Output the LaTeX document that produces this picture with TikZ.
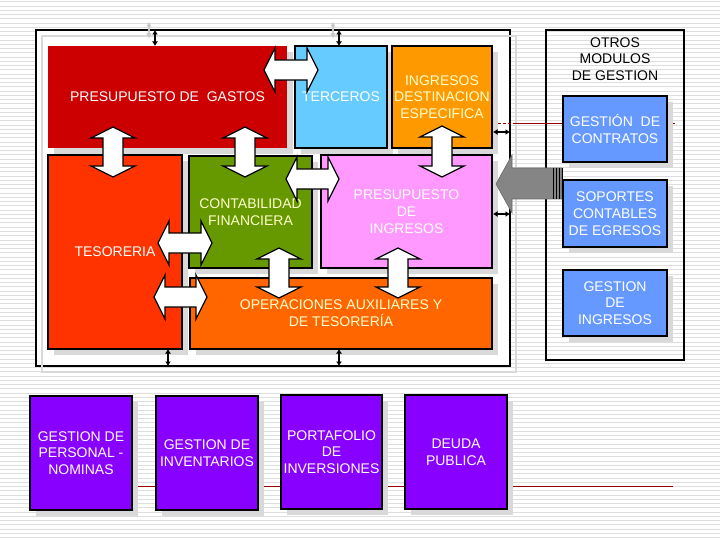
\documentclass[tikz,border=0pt]{standalone}
\usepackage{fontspec}
\setmainfont{Liberation Sans}
\usetikzlibrary{arrows.meta,shadows}
\definecolor{cRed}{HTML}{CC0000}
\definecolor{cSky}{HTML}{66CCFF}
\definecolor{cOrange}{HTML}{FF9900}
\definecolor{cTes}{HTML}{FF3300}
\definecolor{cGreen}{HTML}{669900}
\definecolor{cPink}{HTML}{FF99FF}
\definecolor{cOper}{HTML}{FF6600}
\definecolor{cBlue}{HTML}{6699FF}
\definecolor{cPurple}{HTML}{8800FF}
\definecolor{cShadow}{HTML}{D9D9D9}
\definecolor{cStripe}{HTML}{DEDEDE}
\definecolor{cPale}{HTML}{FFFFCC}
\definecolor{cLine}{HTML}{990000}
\definecolor{cGhost}{HTML}{C8C8C8}
\definecolor{cBig}{HTML}{858585}
\tikzset{
  txt/.style={font=\fontsize{14}{16.8}\selectfont, align=center, inner sep=0pt},
  box/.style={txt, draw=black, line width=1.6pt, text=white,
    drop shadow={shadow xshift=6pt, shadow yshift=-6pt, fill=cShadow, opacity=1}},
  flatbox/.style={txt, draw=none, text=white,
    drop shadow={shadow xshift=6pt, shadow yshift=-6pt, fill=cShadow, opacity=1}},
  smallarr/.style={black, line width=1.2pt, {Latex[length=4.5pt,width=6pt]}-{Latex[length=4.5pt,width=6pt]}},
  ghostarr/.style={cGhost, line width=1.2pt, {Latex[length=4.5pt,width=6pt]}-{Latex[length=4.5pt,width=6pt]}},
  pics/dbl/.style={code={
    \draw[fill=white, draw=black, line width=1.3pt]
      (-#1/2,0) -- (-#1/2+11,-22) -- (-#1/2+11,-10) -- (#1/2-11,-10) -- (#1/2-11,-22)
      -- (#1/2,0) -- (#1/2-11,22) -- (#1/2-11,10) -- (-#1/2+11,10) -- (-#1/2+11,22) -- cycle;
  }}
}
\begin{document}
\begin{tikzpicture}[x=1pt,y=-1pt]
\useasboundingbox (0,0) rectangle (720,540);
\fill[white] (0,0) rectangle (720,540);
% striped background
\foreach \i in {0,...,126} {
  \draw[cStripe, line width=1pt] (0,\i*4.25+2) -- (720,\i*4.25+2);
}
% bottom red line
\coordinate (lineB1) at (132,486);
\coordinate (lineB2) at (673,486);
\draw[cLine, line width=0.9pt] (lineB1) -- (lineB2);
% main frame
\node[draw=black, fill=white, line width=1.8pt, minimum width=474, minimum height=336, inner sep=0pt] (frame) at (273,198) {};
\draw[cShadow, line width=1.6pt] (42,36) rectangle (516,372);
% right panel
\node[draw=black, line width=1.8pt, minimum width=138, minimum height=330, inner sep=0pt] (panel) at (615,195) {};
\node[txt, text=black] (otros) at (615,59) {OTROS\\MODULOS\\DE GESTION};
% top thin red line
\coordinate (lineT1) at (498,123);
\coordinate (lineT2) at (515,123);
\coordinate (lineT3) at (675,123);
\draw[cLine, line width=0.8pt, dash pattern=on 3pt off 2pt] (lineT1) -- (lineT2);
\draw[cLine, line width=0.8pt] (lineT2) -- (lineT3);
% module boxes
\node[flatbox, fill=cRed, minimum width=239, minimum height=102] (gastos) at (167.5,97) {PRESUPUESTO DE\ \ GASTOS};
\node[box, fill=cSky, minimum width=92, minimum height=102] (terceros) at (341,97) {TERCEROS};
\node[box, fill=cOrange, text=cPale, minimum width=100, minimum height=102] (ingdest) at (442,97) {INGRESOS\\DESTINACION\\ESPECIFICA};
\node[box, fill=cTes, minimum width=134, minimum height=194] (tesoreria) at (115,252) {TESORERIA};
\node[box, fill=cGreen, text=cPale, minimum width=123, minimum height=112] (contab) at (250.5,212) {CONTABILIDAD\\FINANCIERA};
\node[box, fill=cPink, minimum width=171, minimum height=113] (presing) at (406.5,211.5) {PRESUPUESTO\\DE\\INGRESOS};
\node[box, fill=cOper, text=cPale, minimum width=302, minimum height=71] (oper) at (341,313.5) {OPERACIONES AUXILIARES Y\\DE TESORERÍA};
% right panel boxes
\node[box, fill=cBlue, minimum width=104, minimum height=66] (contratos) at (615,129) {GESTIÓN\ \ DE\\CONTRATOS};
\node[box, fill=cBlue, minimum width=104, minimum height=67] (soportes) at (615,213.5) {SOPORTES\\CONTABLES\\DE EGRESOS};
\node[box, fill=cBlue, minimum width=104, minimum height=66] (gingresos) at (615,303) {GESTION\\DE\\INGRESOS};
% bottom boxes
\node[box, fill=cPurple, minimum width=102, minimum height=114] (personal) at (81,453) {GESTION DE\\PERSONAL -\\NOMINAS};
\node[box, fill=cPurple, minimum width=102, minimum height=114] (inventarios) at (207,453) {GESTION DE\\INVENTARIOS};
\node[box, fill=cPurple, minimum width=101, minimum height=114] (portafolio) at (331.5,452) {PORTAFOLIO\\DE\\INVERSIONES};
\node[box, fill=cPurple, minimum width=102, minimum height=114] (deuda) at (456,452) {DEUDA\\PUBLICA};
% block double arrows between modules
\pic[rotate=90] at (113,152) {dbl=50};
\pic[rotate=90] at (245,152) {dbl=50};
\pic[rotate=90] at (442,151.5) {dbl=51};
\pic[rotate=90] at (279,273) {dbl=50};
\pic[rotate=90] at (398,273) {dbl=50};
\pic at (291,70) {dbl=54};
\pic at (312.5,179) {dbl=53};
\pic at (185,243) {dbl=54};
\pic at (180.5,297) {dbl=53};
% big grey arrow from the other modules
\fill[cBig, draw=cBig!80!black, line width=0.6pt]
  (496,184) -- (512,155) -- (512,168) -- (562,168) -- (562,199) -- (512,199) -- (512,213) -- cycle;
\foreach \x in {553,556,559,562} {
  \draw[black, line width=0.8pt] (\x,168) -- (\x,199);
}
% small arrows between frame and boxes
\coordinate (s1a) at (155,30);  \coordinate (s1b) at (155,46);
\coordinate (s2a) at (339,30);  \coordinate (s2b) at (339,46);
\coordinate (s3a) at (168,349); \coordinate (s3b) at (168,366);
\coordinate (s4a) at (339,349); \coordinate (s4b) at (339,366);
\coordinate (s5a) at (493,132); \coordinate (s5b) at (510,132);
\coordinate (s6a) at (493,214); \coordinate (s6b) at (510,214);
\coordinate (g1a) at (149,22);  \coordinate (g1b) at (149,38);
\coordinate (g2a) at (333,22);  \coordinate (g2b) at (333,38);
\draw[ghostarr] (g1a) -- (g1b);
\draw[ghostarr] (g2a) -- (g2b);
\draw[smallarr] (s1a) -- (s1b);
\draw[smallarr] (s2a) -- (s2b);
\draw[smallarr] (s3a) -- (s3b);
\draw[smallarr] (s4a) -- (s4b);
\draw[smallarr] (s5a) -- (s5b);
\draw[smallarr] (s6a) -- (s6b);
\end{tikzpicture}
\end{document}
